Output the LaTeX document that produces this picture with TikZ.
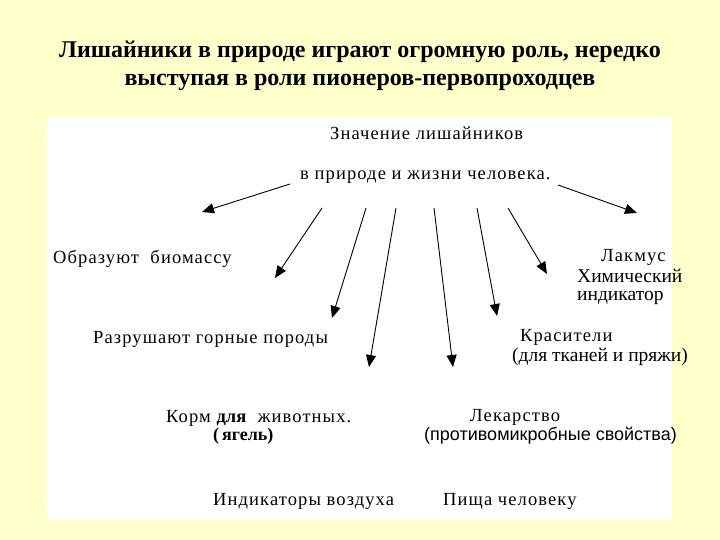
\documentclass[tikz,border=0pt]{standalone}
\usepackage{fontspec}
\setmainfont{Liberation Serif}[BoldFont={Liberation Serif Bold}]
\newfontfamily\serifbold{Liberation Serif Bold}
\newfontfamily\sansf{Liberation Sans}
\usetikzlibrary{arrows.meta}
\definecolor{bgyellow}{HTML}{FFFFCC}
\tikzset{
  lbl/.style={anchor=west,inner sep=0pt,font=\fontsize{18.5}{20}\selectfont\addfontfeature{LetterSpace=6}},
  rlbl/.style={anchor=west,inner sep=0pt,font=\fontsize{19.5}{21}\selectfont},
  blbl/.style={anchor=west,inner sep=0pt,font=\serifbold\fontsize{18}{20}\selectfont},
  slbl/.style={anchor=west,inner sep=0pt,font=\sansf\fontsize{18}{20}\selectfont},
  ttl/.style={inner sep=0pt,font=\serifbold\fontsize{24}{26}\selectfont},
  arr/.style={line width=0.9pt,-{Triangle[length=12pt,width=10pt]}}
}
\begin{document}
\begin{tikzpicture}[x=1pt,y=-1pt]
\useasboundingbox (0,0) rectangle (720,540);
\fill[bgyellow] (0,0) rectangle (720,540);
\fill[white] (47,117) rectangle (672,520);
% title
\node[ttl] (t1) at (360,52) {Лишайники в природе играют огромную роль, нередко};
\node[ttl] (t2) at (360,82) {выступая в роли пионеров-первопроходцев};
% header
\node[lbl] (h1) at (330,133) {Значение лишайников};
\node[lbl] (h2) at (300,177) {в природе и жизни человека.};
% labels
\node[lbl] (bio) at (53,259) {Образуют\ \ биомассу};
\node[lbl] (lak) at (601,257) {Лакмус};
\node[rlbl] (him) at (577,276) {Химический};
\node[rlbl] (ind) at (577,298) {индикатор};
\node[lbl] (raz) at (93,339) {Разрушают горные породы};
\node[lbl] (kra) at (520,337) {Красители};
\node[rlbl] (tka) at (512,357) {(для тканей и пряжи)};
\node[lbl] (kor) at (166,418) {Корм {\serifbold для}\ \ животных.};
\node[blbl] (yag) at (213,436) {(\,ягель)};
\node[lbl] (lek) at (470,417) {Лекарство};
\node[slbl] (pro) at (424,436) {(противомикробные свойства)};
\node[lbl] (ivz) at (213,501) {Индикаторы воздуха};
\node[lbl] (pis) at (443,501) {Пища человеку};
% arrow endpoints
\coordinate (s1) at (290,184); \coordinate (e1) at (202,212);
\coordinate (s2) at (558,185); \coordinate (e2) at (637,213);
\coordinate (s3) at (322,208); \coordinate (e3) at (275,278);
\coordinate (s4) at (366,208); \coordinate (e4) at (332,318);
\coordinate (s5) at (396,208); \coordinate (e5) at (369,367);
\coordinate (s6) at (434,208); \coordinate (e6) at (453,367);
\coordinate (s7) at (477,208); \coordinate (e7) at (497,316);
\coordinate (s8) at (508,208); \coordinate (e8) at (547,274);
\foreach \i in {1,...,8} {\draw[arr] (s\i) -- (e\i);}
\end{tikzpicture}
\end{document}
